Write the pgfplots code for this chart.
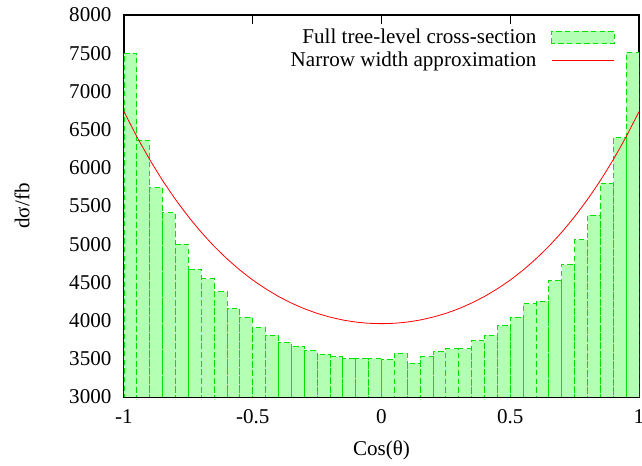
\documentclass[border=0pt]{standalone}
\usepackage{pgfplots}
\pgfplotsset{compat=1.18}
\usepackage{fontspec}
\setmainfont{Liberation Serif}
\definecolor{barfill}{RGB}{179,255,179}
\definecolor{barline}{RGB}{0,225,0}
\definecolor{curvered}{RGB}{255,0,0}
\begin{document}
\fontsize{15.8}{19}\selectfont
\begin{tikzpicture}
\begin{axis}[
  scale only axis,
  width=386.25pt, height=286.5pt,
  xmin=-1, xmax=1, ymin=3000, ymax=8000,
  axis line style={black, line width=0.9pt},
  tick align=inside, tick pos=both,
  major tick length=7pt,
  tick style={black, line width=0.8pt},
  xtick={-1,-0.5,0,0.5,1},
  xticklabels={-1,-0.5,0,0.5,1},
  ytick={3000,3500,4000,4500,5000,5500,6000,6500,7000,7500,8000},
  yticklabels={3000,3500,4000,4500,5000,5500,6000,6500,7000,7500,8000},
  xticklabel style={yshift=-4pt},
  yticklabel style={xshift=-4pt},
  xlabel={Cos(θ)},
  ylabel={dσ/fb},
  xlabel style={at={(axis description cs:0.5,-0.14)}, anchor=center},
  ylabel style={at={(axis description cs:-0.198,0.5)}, anchor=center, rotate=0},
  legend plot pos=right,
  legend cell align=right,
  legend style={draw=none, fill=none, at={(axis description cs:1,1)}, anchor=north east,
    xshift=-15pt, yshift=-5pt, row sep=0pt, inner sep=3pt, column sep=9pt},
]
\addplot[ybar interval, fill=barfill, draw=barline, dash pattern=on 4pt off 2.5pt, line width=0.7pt,
  legend image code/.code={\draw[fill=barfill, draw=barline, dash pattern=on 4pt off 2.5pt, line width=0.7pt] (0pt,-4.75pt) rectangle (47pt,4.75pt);}]
  table[row sep=\\] {
  x y \\
  -1.00 7500 \\
  -0.95 6360 \\
  -0.90 5745 \\
  -0.85 5410 \\
  -0.80 5000 \\
  -0.75 4675 \\
  -0.70 4545 \\
  -0.65 4375 \\
  -0.60 4160 \\
  -0.55 4045 \\
  -0.50 3910 \\
  -0.45 3810 \\
  -0.40 3715 \\
  -0.35 3665 \\
  -0.30 3605 \\
  -0.25 3560 \\
  -0.20 3530 \\
  -0.15 3500 \\
  -0.10 3500 \\
  -0.05 3505 \\
  0.00 3490 \\
  0.05 3575 \\
  0.10 3445 \\
  0.15 3525 \\
  0.20 3595 \\
  0.25 3630 \\
  0.30 3630 \\
  0.35 3735 \\
  0.40 3810 \\
  0.45 3930 \\
  0.50 4045 \\
  0.55 4220 \\
  0.60 4255 \\
  0.65 4520 \\
  0.70 4735 \\
  0.75 5060 \\
  0.80 5380 \\
  0.85 5800 \\
  0.90 6395 \\
  0.95 7510 \\
  1.00 7510 \\
  };
\addlegendentry{Full tree-level cross-section}
\addplot[curvered, line width=0.6pt, smooth, tension=0.3,
  legend image code/.code={\draw[curvered, line width=0.6pt] (0pt,0pt) -- (47pt,0pt);}]
  coordinates {
  (-1.00,6735) (-0.95,6407) (-0.90,6107) (-0.85,5834) (-0.80,5586)
  (-0.75,5361) (-0.70,5157) (-0.65,4973) (-0.60,4809) (-0.55,4662)
  (-0.50,4531) (-0.45,4417) (-0.40,4316) (-0.35,4230) (-0.30,4156)
  (-0.25,4095) (-0.20,4046) (-0.15,4008) (-0.10,3981) (-0.05,3965)
  (0.00,3960) (0.05,3965) (0.10,3981) (0.15,4008) (0.20,4046)
  (0.25,4095) (0.30,4156) (0.35,4230) (0.40,4316) (0.45,4417)
  (0.50,4531) (0.55,4662) (0.60,4809) (0.65,4973) (0.70,5157)
  (0.75,5361) (0.80,5586) (0.85,5834) (0.90,6107) (0.95,6407)
  (1.00,6735)
  };
\addlegendentry{Narrow width approximation}
\end{axis}
\pgfresetboundingbox
\path ([xshift=-93pt,yshift=-51.75pt]current axis.south west) rectangle ([xshift=2.25pt,yshift=11.25pt]current axis.north east);
\end{tikzpicture}
\end{document}
